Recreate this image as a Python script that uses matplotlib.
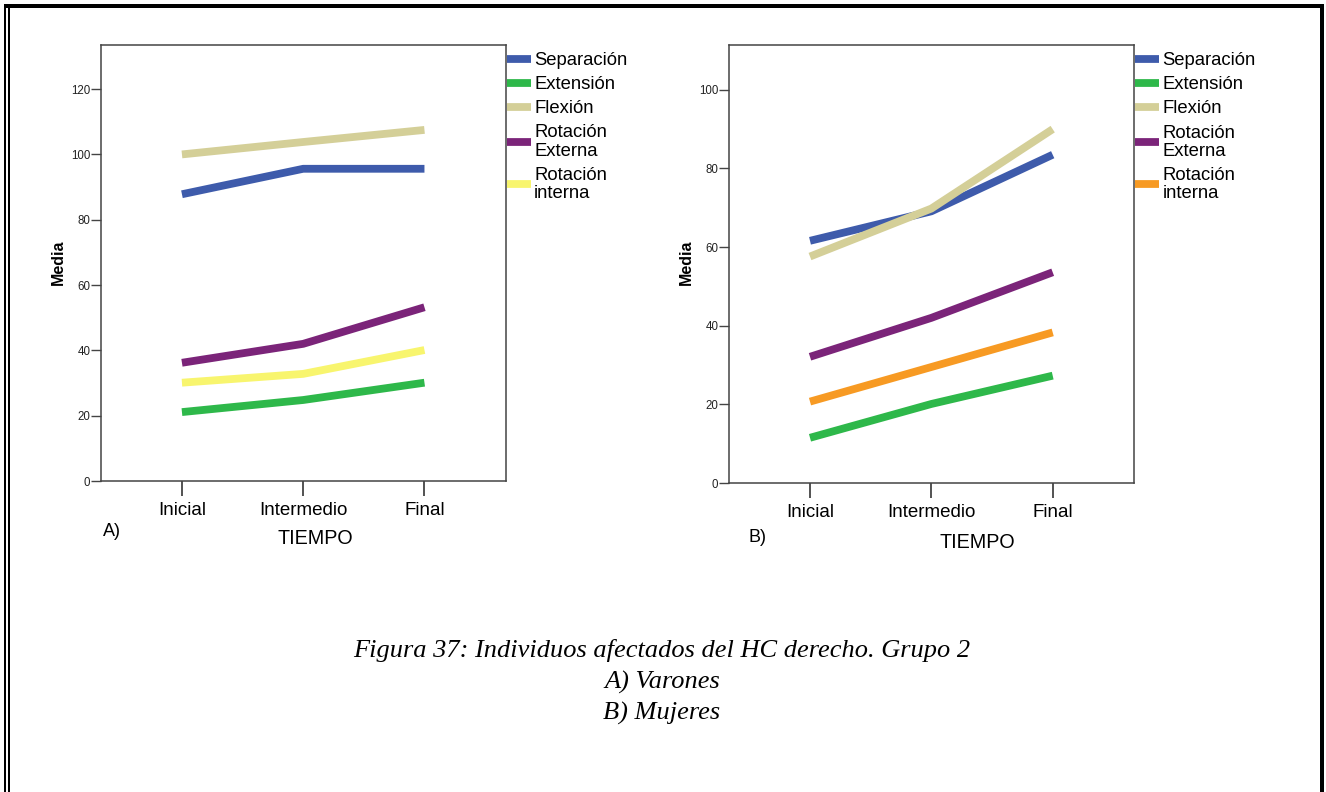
import matplotlib
matplotlib.use("Agg")
import matplotlib.pyplot as plt
from matplotlib.patches import Rectangle

plt.rcParams['font.family'] = ['Liberation Sans', 'DejaVu Sans']

# datos
tiempos = ["Inicial", "Intermedio", "Final"]
series = ["Separación", "Extensión", "Flexión", "Rotación\nExterna", "Rotación\ninterna"]

varones = {
    "Separación": [87.8, 95.6, 95.6],
    "Extensión": [21.1, 24.8, 30.1],
    "Flexión": [100.0, 103.8, 107.5],
    "Rotación\nExterna": [36.2, 42.0, 53.2],
    "Rotación\ninterna": [30.1, 32.8, 40.1],
}
mujeres = {
    "Separación": [61.6, 69.1, 83.5],
    "Extensión": [11.5, 20.1, 27.3],
    "Flexión": [57.6, 69.8, 90.0],
    "Rotación\nExterna": [32.1, 42.0, 53.6],
    "Rotación\ninterna": [20.7, 29.5, 38.3],
}

colores_a = ["#3e5bab", "#2eb84a", "#d4cf98", "#7b2479", "#f8f56e"]
colores_b = ["#3e5bab", "#2eb84a", "#d4cf98", "#7b2479", "#f79a23"]

W, H = 1326, 792
fig = plt.figure(figsize=(W / 100, H / 100), dpi=100)

def px(x0, y0, x1, y1):
    # caja en pixeles (desde arriba) -> fracciones de figura
    return [x0 / W, 1 - y1 / H, (x1 - x0) / W, (y1 - y0) / H]

def panel(rect, datos, colores, ymax, yticks, letra, pos_letra, pos_tiempo, pos_media):
    ax = fig.add_axes(px(*rect))
    x = range(len(tiempos))
    for s, c in zip(series, colores):
        ax.plot(x, datos[s], color=c, lw=5.6, solid_capstyle='butt', label=s)
    ax.set_xlim(-0.67, 2.67)
    ax.set_ylim(0, ymax)
    ax.set_xticks(list(x))
    ax.set_xticklabels(tiempos, fontsize=13.5)
    ax.set_yticks(yticks)
    ax.tick_params(axis='y', length=7, width=1, color='#444444', labelsize=8.3, pad=0.5,
                   labelcolor='#222222')
    ax.tick_params(axis='x', length=11, width=1.3, color='#444444', pad=4)
    for sp in ax.spines.values():
        sp.set_color('#444444')
        sp.set_linewidth(1.1)
    leg = ax.legend(loc='upper left', frameon=False,
                    fontsize=13.3, handlelength=1.3, handletextpad=0.2,
                    labelspacing=0.38, borderaxespad=0.0, borderpad=0.0)
    leg.set_bbox_to_anchor((1.002, 0.0, 1.0, 0.983), transform=ax.transAxes)
    for t in leg.get_texts():
        t.set_linespacing(1.08)
    fig.text(pos_letra[0] / W, 1 - pos_letra[1] / H, letra, fontsize=13, ha='left', va='center')
    fig.text(pos_tiempo[0] / W, 1 - pos_tiempo[1] / H, "TIEMPO", fontsize=14.2, ha='center', va='center')
    fig.text(pos_media[0] / W, 1 - pos_media[1] / H, "Media", fontsize=11.5, fontweight='bold',
             rotation=90, ha='center', va='center')
    return ax

panel((100.7, 45, 505.7, 481), varones, colores_a, 133.5, [0, 20, 40, 60, 80, 100, 120],
      "A)", (103, 532), (315, 539), (58, 262))
panel((728.7, 45, 1134, 483), mujeres, colores_b, 111.4, [0, 20, 40, 60, 80, 100],
      "B)", (748, 538), (977, 543), (686, 262))

# pie de figura
caption = ["Figura 37: Individuos afectados del HC derecho. Grupo 2", "A) Varones", "B) Mujeres"]
for txt, yy in zip(caption, [650, 682, 713]):
    fig.text(662 / W, 1 - yy / H, txt, fontsize=19, style='italic',
             family=['Liberation Serif', 'DejaVu Serif'], ha='center', va='center')

# marco
for r in [(4, 4, 1323.5, 7.5), (4, 4, 6.2, H), (7.6, 4, 9.6, H), (1319.5, 4, 1323.5, H)]:
    fig.add_artist(Rectangle(((r[0]) / W, 1 - r[3] / H), (r[2] - r[0]) / W, (r[3] - r[1]) / H,
                             transform=fig.transFigure, color='black', lw=0))

fig.savefig("out.png", dpi=100)
